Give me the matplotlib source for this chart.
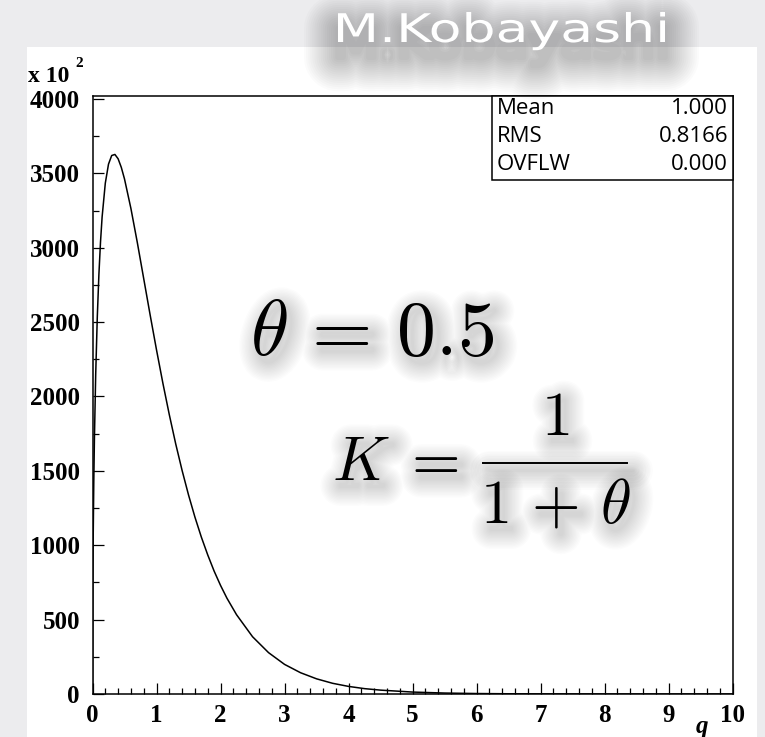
import numpy as np
import matplotlib
matplotlib.use('Agg')
import matplotlib.pyplot as plt
import matplotlib.patheffects as pe
from matplotlib.patches import Rectangle, PathPatch
from matplotlib.lines import Line2D
from matplotlib.textpath import TextPath
from matplotlib.font_manager import FontProperties
from matplotlib.transforms import Affine2D, IdentityTransform

plt.rcParams['mathtext.fontset'] = 'cm'

# histogram contents (in units of 10^2)
q = [0, 0.005, 0.01, 0.02, 0.03, 0.05, 0.075, 0.1, 0.125, 0.15, 0.2, 0.25,
     0.3, 0.35, 0.4, 0.45, 0.5, 0.6, 0.7, 0.8, 0.9, 1.0, 1.1, 1.2, 1.3, 1.4,
     1.5, 1.6, 1.7, 1.8, 1.9, 2.0, 2.1, 2.25, 2.5, 2.75, 3.0, 3.25, 3.5, 3.75,
     4.0, 4.25, 4.5, 5.0, 5.5, 6.0, 6.5, 7.0, 8.0, 9.0, 10.0]
counts = [0, 727, 1021, 1422, 1716, 2150, 2536, 2821, 3038, 3206, 3434, 3562,
          3620, 3627, 3598, 3540, 3462, 3264, 3035, 2792, 2549, 2313, 2088, 1877, 1681, 1502,
          1338, 1189, 1055, 935, 826, 730, 644, 533, 385, 278, 199, 143, 102, 72,
          51, 36, 26, 13, 6.4, 3.1, 1.5, 0.75, 0.18, 0, 0]

stat_names = ['Mean', 'RMS', 'OVFLW']
stat_values = ['1.000', '0.8166', '0.000']

W, H = 765, 737


def fx(x):
    return x / W


def fy(y):
    return 1 - y / H


class Haze(pe.Stroke):
    # outline only, no fill, so stacked strokes fade out like a blur
    def draw_path(self, renderer, gc, tpath, affine, rgbFace=None):
        super().draw_path(renderer, gc, tpath, affine, None)


def blur(dx, dy, widths, alpha):
    return [Haze(linewidth=w, foreground='k', alpha=alpha, offset=(dx, dy),
                 joinstyle='round', capstyle='round')
            for w in widths]


eq_shadow = blur(4, -5, range(2, 30, 2), 0.013)

fig = plt.figure(figsize=(W / 100, H / 100), dpi=100, facecolor='#ececee')
fig.add_artist(Rectangle((fx(27), 0), fx(757) - fx(27), fy(47), transform=fig.transFigure,
                         facecolor='white', edgecolor='none', zorder=-1))

ax = fig.add_axes([fx(92.5), fy(694), fx(732.7) - fx(92.5), fy(96) - fy(694)])
ax.plot(q, counts, color='black', lw=1.1)
ax.set_xlim(0, 10)
ax.set_ylim(0, 4020)
ax.set_xticks(np.arange(0, 11, 1))
ax.set_xticks(np.arange(0, 10.01, 0.2), minor=True)
ax.set_yticks(np.arange(0, 4001, 500))
ax.set_yticks(np.arange(0, 4001, 250), minor=True)
ax.tick_params(which='both', direction='in', width=0.9, top=False, right=False)
ax.tick_params(which='major', length=8, pad=7)
ax.tick_params(which='minor', length=4)
ax.tick_params(axis='y', which='major', pad=9)
for sp in ax.spines.values():
    sp.set_linewidth(1.1)
for lab in ax.get_xticklabels() + ax.get_yticklabels():
    lab.set_fontfamily('Liberation Serif')
    lab.set_fontweight('bold')
    lab.set_fontsize(18)

# stats box in the top right corner
ax.add_patch(Rectangle((0.624, 0.8595), 0.376, 0.1405, transform=ax.transAxes,
                       facecolor='white', edgecolor='black', lw=1.1, zorder=5, clip_on=False))
for i, (n, v) in enumerate(zip(stat_names, stat_values)):
    y = fy(109 + i * 28)
    fig.text(fx(497), y, n, ha='left', va='center', fontsize=16, family='Open Sans', zorder=6)
    fig.text(fx(728), y, v, ha='right', va='center', fontsize=16, family='Open Sans', zorder=6)

fig.text(fx(28), fy(82), 'x 10', fontsize=17, family='Liberation Serif', weight='bold')
fig.text(fx(75), fy(67), '2', fontsize=11, family='Liberation Serif', weight='bold')
fig.text(fx(702), fy(727), 'q', fontsize=18, family='Liberation Serif', weight='bold',
         style='italic', ha='center', va='center')


def shadowed_text(x, y, s, size, ha='left'):
    fig.text(fx(x), fy(y), s, fontsize=size, ha=ha, va='baseline', path_effects=eq_shadow)
    fig.text(fx(x), fy(y), s, fontsize=size, ha=ha, va='baseline', color='black')


# equations with soft shadows
shadowed_text(250, 355, r'$\theta\,=\,0.5$', 56)
shadowed_text(332, 480, r'$K\;=$', 45)
shadowed_text(555, 435, r'$1$', 45, ha='center')
shadowed_text(555, 523, r'$1\,+\,\theta$', 45, ha='center')
bar_x = [fx(483), fx(627)]
bar_y = [fy(463), fy(463)]
fig.add_artist(Line2D(bar_x, bar_y, transform=fig.transFigure, color='k', lw=1.4,
                      alpha=0, path_effects=eq_shadow))
fig.add_artist(Line2D(bar_x, bar_y, transform=fig.transFigure, color='black', lw=1.4))

# signature at the top
tp = TextPath((0, 0), 'M.Kobayashi', size=40, prop=FontProperties(family='DejaVu Sans'))
ext = tp.get_extents()
sx = (665 - 338) / ext.width
sy = 30 / ext.y1
tr = Affine2D().translate(-ext.x0, 0).scale(sx, sy).translate(338, H - 42)
path = tr.transform_path(tp)
fig.add_artist(PathPatch(path, facecolor='k', edgecolor='none', alpha=0,
                         transform=IdentityTransform(), zorder=7,
                         path_effects=blur(0, -11, range(4, 50, 3), 0.016)))
fig.add_artist(PathPatch(path, facecolor='white', edgecolor='none',
                         transform=IdentityTransform(), zorder=8))

fig.savefig('out.png', dpi=100, facecolor=fig.get_facecolor())
